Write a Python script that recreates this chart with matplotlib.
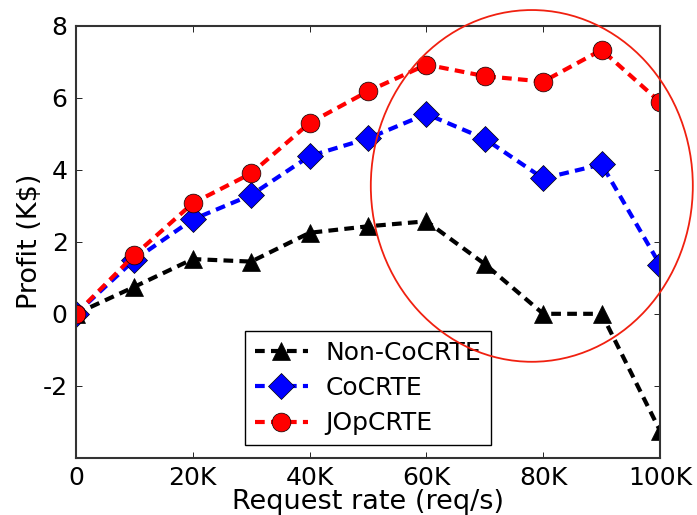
import matplotlib
matplotlib.use("Agg")
import matplotlib.pyplot as plt
from matplotlib.patches import Ellipse

plt.rcParams['font.family'] = ['DejaVu Sans']
plt.rcParams['lines.scale_dashes'] = False

rates = [0, 10000, 20000, 30000, 40000, 50000, 60000, 70000, 80000, 90000, 100000]
non_cocrte = [0.0, 0.75, 1.52, 1.45, 2.25, 2.43, 2.57, 1.38, 0.0, 0.0, -3.25]
cocrte = [0.0, 1.5, 2.62, 3.3, 4.38, 4.87, 5.55, 4.86, 3.76, 4.15, 1.36]
jopcrte = [0.0, 1.63, 3.07, 3.9, 5.3, 6.18, 6.92, 6.6, 6.45, 7.33, 5.88]

xticks = [0, 20000, 40000, 60000, 80000, 100000]
xticklabels = ['0', '20K', '40K', '60K', '80K', '100K']
yticks = [-2, 0, 2, 4, 6, 8]
yticklabels = ['-2', '0', '2', '4', '6', '8']

fig = plt.figure(figsize=(6.97, 5.15), dpi=100)
ax = fig.add_axes([0.109, 0.111, 0.838, 0.839])

dash = (7, 4.5)
ax.plot(rates, non_cocrte, color='black', lw=3, dashes=dash, marker='^', ms=13,
        mec='black', mew=0.5, label='Non-CoCRTE')
ax.plot(rates, cocrte, color='blue', lw=3, dashes=dash, marker='D', ms=13.5,
        mec='black', mew=0.5, label='CoCRTE')
ax.plot(rates, jopcrte, color='red', lw=3, dashes=dash, marker='o', ms=13.5,
        mec='black', mew=0.5, label='JOpCRTE')

ax.set_xlim(0, 100000)
ax.set_ylim(-4, 8)
ax.set_xticks(xticks)
ax.set_xticklabels(xticklabels)
ax.set_yticks(yticks)
ax.set_yticklabels(yticklabels)
ax.tick_params(direction='in', top=True, right=True, length=4, width=0.6,
               labelsize=18, colors='black', pad=6)
for s in ax.spines.values():
    s.set_linewidth(1.5)
    s.set_color('#333333')

ax.set_xlabel('Request rate (req/s)', fontsize=19.5, labelpad=-1)
ax.set_ylabel('Profit (K$)', fontsize=19.5, labelpad=0)

leg = ax.legend(loc='lower center', numpoints=1, fontsize=18, fancybox=False,
                framealpha=1, edgecolor='black', handlelength=2.1,
                borderaxespad=0.5, labelspacing=0.45, handletextpad=0.7,
                borderpad=0.4)
leg.get_frame().set_linewidth(1.0)

ell = Ellipse((0.763, 0.639), 0.462, 0.683, transform=fig.transFigure,
              fill=False, edgecolor='#f02010', lw=1.3, clip_on=False)
fig.patches.append(ell)

fig.savefig('out.png', dpi=100)
